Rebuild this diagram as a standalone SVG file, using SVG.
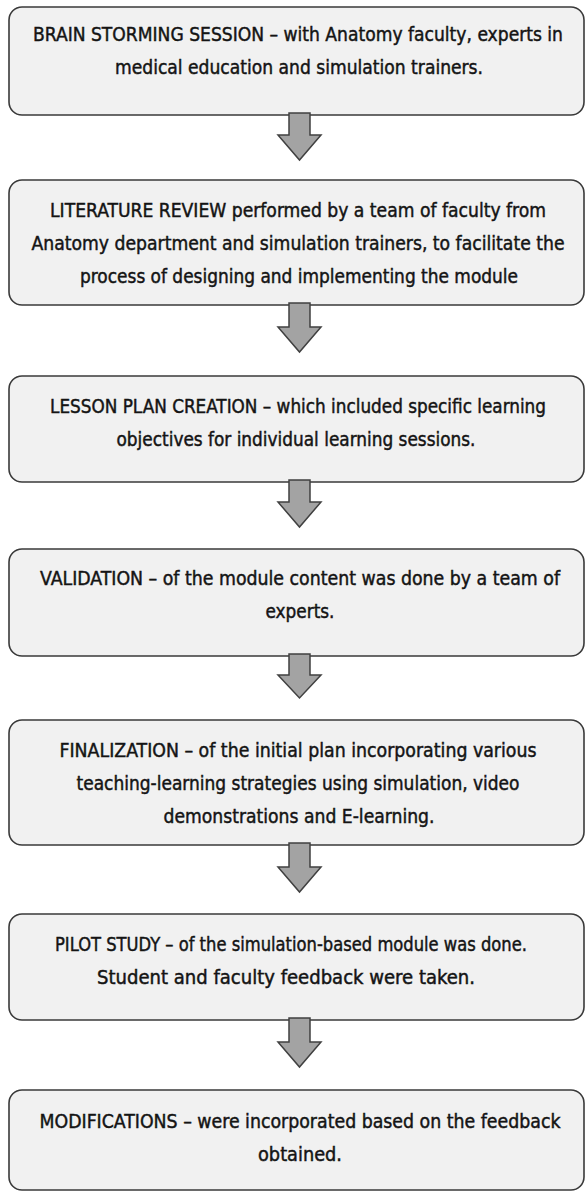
<svg xmlns="http://www.w3.org/2000/svg" width="586" height="1193" viewBox="0 0 586 1193">
<style>
.box{fill:#f1f1f1;stroke:#3a3a3a;stroke-width:1.6}
.t{font-family:"DejaVu Sans Condensed","Liberation Sans",sans-serif;font-size:20px;fill:#141414;stroke:#141414;stroke-width:0.45;text-anchor:middle}
.arr{fill:#a3a3a3;stroke:#404040;stroke-width:1.5;stroke-linejoin:miter}
</style>
<rect width="586" height="1193" fill="#ffffff"/>
<g id="n1"><rect class="box" x="9" y="7" width="575" height="108" rx="13"/>
<text class="t" x="298" y="41" textLength="530" lengthAdjust="spacingAndGlyphs">BRAIN STORMING SESSION – with Anatomy faculty, experts in</text>
<text class="t" x="299" y="74" textLength="368" lengthAdjust="spacingAndGlyphs">medical education and simulation trainers.</text></g>
<g id="n2"><rect class="box" x="9" y="180" width="575" height="125" rx="13"/>
<text class="t" x="298" y="217" textLength="496" lengthAdjust="spacingAndGlyphs">LITERATURE REVIEW performed by a team of faculty from</text>
<text class="t" x="298" y="250" textLength="533" lengthAdjust="spacingAndGlyphs">Anatomy department and simulation trainers, to facilitate the</text>
<text class="t" x="299" y="283" textLength="438" lengthAdjust="spacingAndGlyphs">process of designing and implementing the module</text></g>
<g id="n3"><rect class="box" x="9" y="376" width="575" height="106" rx="13"/>
<text class="t" x="298" y="413" textLength="496" lengthAdjust="spacingAndGlyphs">LESSON PLAN CREATION – which included specific learning</text>
<text class="t" x="296" y="446" textLength="359" lengthAdjust="spacingAndGlyphs">objectives for individual learning sessions.</text></g>
<g id="n4"><rect class="box" x="9" y="549" width="575" height="107" rx="13"/>
<text class="t" x="300" y="585" textLength="520" lengthAdjust="spacingAndGlyphs">VALIDATION – of the module content was done by a team of</text>
<text class="t" x="300" y="618" textLength="69" lengthAdjust="spacingAndGlyphs">experts.</text></g>
<g id="n5"><rect class="box" x="9" y="720" width="575" height="125" rx="13"/>
<text class="t" x="298" y="757" textLength="477" lengthAdjust="spacingAndGlyphs">FINALIZATION – of the initial plan incorporating various</text>
<text class="t" x="298" y="790" textLength="443" lengthAdjust="spacingAndGlyphs">teaching-learning strategies using simulation, video</text>
<text class="t" x="299" y="823" textLength="271" lengthAdjust="spacingAndGlyphs">demonstrations and E-learning.</text></g>
<g id="n6"><rect class="box" x="9" y="914" width="575" height="106" rx="13"/>
<text class="t" x="291" y="951" textLength="472" lengthAdjust="spacingAndGlyphs">PILOT STUDY – of the simulation-based module was done.</text>
<text class="t" x="286" y="984" textLength="378" lengthAdjust="spacingAndGlyphs">Student and faculty feedback were taken.</text></g>
<g id="n7"><rect class="box" x="9" y="1090" width="575" height="100" rx="13"/>
<text class="t" x="300" y="1128" textLength="521" lengthAdjust="spacingAndGlyphs">MODIFICATIONS – were incorporated based on the feedback</text>
<text class="t" x="300" y="1161" textLength="84" lengthAdjust="spacingAndGlyphs">obtained.</text></g>
<g id="connectors">
<path class="arr" d="M289,113 H310 V135 H321 L299.5,160 L278,135 H289 Z"/>
<path class="arr" d="M289,303 H310 V327 H321 L299.5,352 L278,327 H289 Z"/>
<path class="arr" d="M289,480 H310 V502 H321 L299.5,527 L278,502 H289 Z"/>
<path class="arr" d="M289,654 H310 V675 H321 L299.5,698 L278,675 H289 Z"/>
<path class="arr" d="M289,843 H310 V867 H321 L299.5,892 L278,867 H289 Z"/>
<path class="arr" d="M289,1018 H310 V1042 H321 L299.5,1067 L278,1042 H289 Z"/>
</g>
</svg>
